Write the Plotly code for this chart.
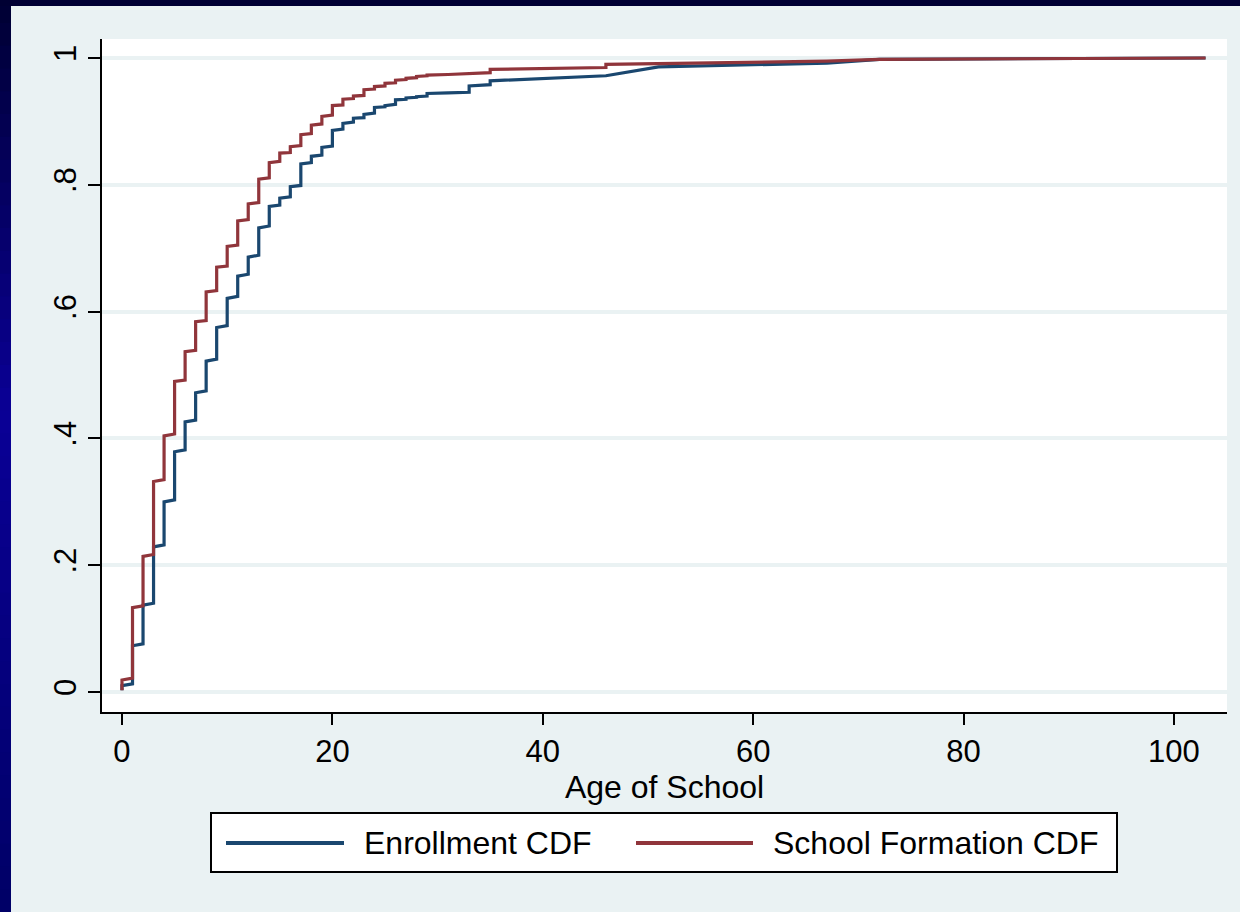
import plotly.graph_objects as go

# ---------------- data ----------------
enroll_age = [0, 1, 2, 3, 4, 5, 6, 7, 8, 9, 10, 11, 12, 13, 14, 15, 16, 17, 18, 19,
              20, 21, 22, 23, 24, 25, 26, 27, 28, 29, 31, 33, 35, 40, 46, 51, 60, 67, 72, 103]
# CDF at the first and at the last observation of each age
enroll_lo = [0.003, 0.013, 0.076, 0.140, 0.232, 0.303, 0.382, 0.429, 0.475, 0.525,
             0.578, 0.624, 0.659, 0.689, 0.735, 0.768, 0.781, 0.799, 0.835, 0.847,
             0.861, 0.888, 0.899, 0.906, 0.913, 0.923, 0.927, 0.935, 0.938, 0.940,
             0.945, 0.946, 0.958, 0.968, 0.972, 0.986, 0.989, 0.992, 0.998, 1.000]
enroll_hi = [0.010, 0.073, 0.137, 0.229, 0.300, 0.379, 0.426, 0.472, 0.522, 0.575,
             0.621, 0.656, 0.686, 0.732, 0.766, 0.779, 0.797, 0.833, 0.845, 0.859,
             0.886, 0.897, 0.905, 0.911, 0.922, 0.925, 0.934, 0.937, 0.939, 0.944,
             0.945, 0.956, 0.964, 0.968, 0.972, 0.986, 0.989, 0.992, 0.998, 1.000]

formation_age = [0, 1, 2, 3, 4, 5, 6, 7, 8, 9, 10, 11, 12, 13, 14, 15, 16, 17, 18, 19,
                 20, 21, 22, 23, 24, 25, 26, 27, 28, 29, 31, 33, 35, 40, 46, 51, 60, 67, 72, 103]
formation_lo = [0.003, 0.022, 0.136, 0.217, 0.335, 0.407, 0.492, 0.539, 0.586, 0.633,
                0.672, 0.705, 0.745, 0.772, 0.811, 0.837, 0.851, 0.862, 0.881, 0.896,
                0.910, 0.926, 0.936, 0.941, 0.951, 0.956, 0.961, 0.966, 0.969, 0.972,
                0.974, 0.975, 0.977, 0.983, 0.985, 0.991, 0.993, 0.995, 0.998, 1.000]
formation_hi = [0.019, 0.133, 0.214, 0.332, 0.404, 0.490, 0.537, 0.584, 0.631, 0.670,
                0.703, 0.743, 0.770, 0.809, 0.835, 0.850, 0.860, 0.879, 0.894, 0.908,
                0.925, 0.935, 0.940, 0.950, 0.955, 0.960, 0.965, 0.968, 0.971, 0.973,
                0.974, 0.975, 0.982, 0.983, 0.990, 0.991, 0.993, 0.995, 0.998, 1.000]

series_names = ["Enrollment CDF", "School Formation CDF"]
y_tickvals = [0, 0.2, 0.4, 0.6, 0.8, 1]
y_ticktext = ["0", ".2", ".4", ".6", ".8", "1"]
x_tickvals = [0, 20, 40, 60, 80, 100]
x_title = "Age of School"

# ---------------- styling ----------------
BLUE = "#1A476F"
RED = "#90353B"
PANEL = "#EAF2F3"
FONT = "Liberation Sans, Arial, sans-serif"
FS = 31
W, H = 1240, 912
L, R, T, B = 102, 13, 39, 200
PW, PH = W - L - R, H - T - B


def px2x(px):
    return (px - L) / PW


def py2y(py):
    return (H - B - py) / PH


def path(ages, lo, hi):
    xs, ys = [], []
    for a, l, h in zip(ages, lo, hi):
        xs += [a, a]
        ys += [l, h]
    return xs, ys


fig = go.Figure()
for ages, lo, hi, name, col in [
    (enroll_age, enroll_lo, enroll_hi, series_names[0], BLUE),
    (formation_age, formation_lo, formation_hi, series_names[1], RED),
]:
    xs, ys = path(ages, lo, hi)
    fig.add_trace(go.Scatter(x=xs, y=ys, mode="lines", name=name,
                             line=dict(color=col, width=3.2), showlegend=False))

shapes = []
n = 40


def grad(t):
    stops = [(0.0, (0, 0, 51)), (0.45, (10, 0, 150)), (1.0, (0, 0, 102))]
    for (t0, c0), (t1, c1) in zip(stops[:-1], stops[1:]):
        if t0 <= t <= t1:
            f = (t - t0) / (t1 - t0)
            return "rgb(%d,%d,%d)" % tuple(round(a + (b - a) * f) for a, b in zip(c0, c1))
    return "rgb(0,0,102)"


for i in range(n):
    y_top = H * i / n
    y_bot = H * (i + 1) / n + 1
    shapes.append(dict(type="rect", xref="paper", yref="paper", layer="below",
                       x0=px2x(0), x1=px2x(12), y0=py2y(y_bot), y1=py2y(y_top),
                       fillcolor=grad((i + 0.5) / n), line=dict(width=0)))
shapes.append(dict(type="rect", xref="paper", yref="paper", layer="below",
                   x0=px2x(0), x1=px2x(W), y0=py2y(6), y1=py2y(0),
                   fillcolor="#000033", line=dict(width=0)))
shapes.append(dict(type="rect", xref="paper", yref="paper", layer="below",
                   x0=px2x(11), x1=px2x(W), y0=py2y(H), y1=py2y(6),
                   fillcolor=PANEL, line=dict(width=0)))
shapes.append(dict(type="rect", xref="paper", yref="paper", layer="below",
                   x0=0, x1=1, y0=0, y1=1, fillcolor="white", line=dict(width=0)))

# legend box
shapes.append(dict(type="rect", xref="paper", yref="paper",
                   x0=px2x(211), x1=px2x(1117), y0=py2y(872), y1=py2y(813),
                   fillcolor="white", line=dict(color="black", width=2)))
leg_y = py2y(843)
shapes.append(dict(type="line", xref="paper", yref="paper",
                   x0=px2x(226), x1=px2x(344), y0=leg_y, y1=leg_y,
                   line=dict(color=BLUE, width=4)))
shapes.append(dict(type="line", xref="paper", yref="paper",
                   x0=px2x(636), x1=px2x(753), y0=leg_y, y1=leg_y,
                   line=dict(color=RED, width=4)))

annotations = [
    dict(x=px2x(362), y=leg_y, xref="paper", yref="paper", text=series_names[0],
         showarrow=False, xanchor="left", yanchor="middle",
         font=dict(family=FONT, size=32, color="black")),
    dict(x=px2x(771), y=leg_y, xref="paper", yref="paper", text=series_names[1],
         showarrow=False, xanchor="left", yanchor="middle",
         font=dict(family=FONT, size=32, color="black")),
]

fig.update_layout(
    width=W, height=H,
    margin=dict(l=L, r=R, t=T, b=B, pad=0),
    paper_bgcolor="#00007F",
    plot_bgcolor="white",
    shapes=shapes,
    annotations=annotations,
    font=dict(family=FONT, size=FS, color="black"),
    showlegend=False,
)
fig.update_xaxes(
    range=[-1.9, 105.04], tickvals=x_tickvals, ticks="outside", ticklen=11,
    tickwidth=2, tickcolor="black", showline=True, linecolor="black", linewidth=2,
    showgrid=False, zeroline=False, tickfont=dict(size=FS),
    title=dict(text=x_title, font=dict(size=32), standoff=0),
)
fig.update_yaxes(
    range=[-0.0315, 1.03], tickvals=y_tickvals, ticktext=y_ticktext, ticks="outside",
    ticklen=12, tickwidth=2, tickcolor="black", showline=True, linecolor="black",
    linewidth=2, showgrid=True, gridcolor=PANEL, gridwidth=4, zeroline=False,
    tickangle=-90, tickfont=dict(size=FS),
)

fig.write_html(
    "out.html",
    config={"displayModeBar": False},
    post_script="document.body.style.margin='0';document.body.style.background='#EAF2F3';",
)
